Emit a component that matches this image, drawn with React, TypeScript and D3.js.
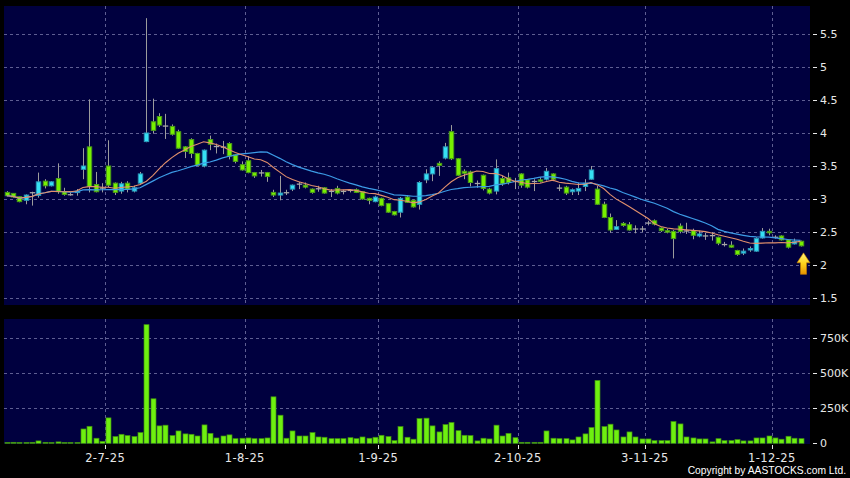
import React from "react";
import * as d3 from "d3";

// ---- data ----
const opens = [3.10,3.085,3.035,2.98,3.09,3.055,3.27,3.20,3.31,3.11,3.07,3.10,3.45,3.79,3.22,3.17,3.50,3.24,3.12,3.24,3.12,3.24,3.87,4.17,4.25,4.11,4.10,4.02,3.79,3.90,3.69,3.50,3.90,3.80,3.79,3.84,3.67,3.52,3.58,3.40,3.40,3.40,3.10,3.06,3.09,3.15,3.22,3.21,3.15,3.15,3.17,3.11,3.16,3.12,3.13,3.14,3.11,3.01,2.96,3.01,2.93,2.81,2.80,3.03,2.98,2.92,3.29,3.38,3.54,3.62,4.02,3.61,3.42,3.41,3.24,3.36,3.15,3.12,3.31,3.32,3.27,3.38,3.29,3.26,3.29,3.30,3.38,3.17,3.18,3.11,3.12,3.19,3.30,3.15,2.92,2.72,2.54,2.63,2.61,2.55,2.54,2.63,2.67,2.56,2.52,2.51,2.59,2.52,2.52,2.44,2.44,2.45,2.42,2.31,2.30,2.22,2.18,2.23,2.21,2.41,2.51,2.42,2.44,2.38,2.32,2.36];
const highs = [3.12,3.09,3.04,3.07,3.11,3.40,3.30,3.27,3.54,3.17,3.10,3.15,3.77,4.51,3.41,3.24,3.89,3.25,3.26,3.27,3.20,3.41,5.74,4.52,4.30,4.29,4.13,4.05,3.80,3.92,3.70,3.75,3.96,3.84,3.88,3.86,3.68,3.57,3.65,3.41,3.44,3.41,3.14,3.35,3.14,3.22,3.26,3.25,3.16,3.20,3.18,3.15,3.20,3.14,3.15,3.16,3.12,3.02,3.05,3.02,2.94,2.82,3.03,3.06,2.99,3.27,3.45,3.50,3.57,3.85,4.12,3.62,3.45,3.43,3.28,3.37,3.17,3.60,3.35,3.40,3.32,3.39,3.30,3.30,3.33,3.47,3.39,3.22,3.20,3.16,3.25,3.30,3.50,3.20,2.96,2.78,2.68,2.65,2.65,2.60,2.59,2.67,2.69,2.57,2.55,2.53,2.63,2.64,2.55,2.52,2.49,2.50,2.43,2.35,2.36,2.23,2.25,2.28,2.42,2.56,2.55,2.45,2.45,2.39,2.40,2.37];
const lows = [3.04,3.02,2.95,2.92,2.90,3.02,3.16,3.19,3.08,3.05,3.05,3.05,3.30,3.10,3.10,3.10,3.18,3.06,3.08,3.10,3.10,3.22,3.86,3.99,4.09,3.91,3.96,3.76,3.62,3.62,3.50,3.48,3.74,3.69,3.68,3.60,3.54,3.43,3.39,3.32,3.34,3.26,3.03,2.98,3.06,3.12,3.15,3.16,3.08,3.11,3.08,3.03,3.07,3.07,3.10,3.09,2.99,2.92,2.95,2.89,2.79,2.75,2.72,2.94,2.87,2.84,3.24,3.27,3.35,3.60,3.59,3.35,3.30,3.19,3.17,3.13,3.07,3.07,3.20,3.22,3.15,3.17,3.16,3.12,3.25,3.28,3.27,3.12,3.06,3.06,3.06,3.12,3.29,2.91,2.71,2.49,2.53,2.58,2.52,2.48,2.50,2.60,2.60,2.50,2.48,2.10,2.48,2.47,2.39,2.42,2.38,2.37,2.30,2.28,2.26,2.14,2.15,2.20,2.20,2.40,2.45,2.40,2.37,2.25,2.31,2.28];
const closes = [3.05,3.03,2.96,3.06,3.10,3.26,3.20,3.26,3.11,3.07,3.06,3.12,3.50,3.19,3.11,3.16,3.21,3.10,3.23,3.15,3.17,3.38,4.00,4.04,4.12,4.10,3.98,3.77,3.72,3.69,3.51,3.74,3.83,3.79,3.78,3.65,3.57,3.44,3.40,3.35,3.39,3.34,3.06,3.09,3.10,3.21,3.23,3.18,3.10,3.16,3.09,3.12,3.09,3.11,3.13,3.10,3.00,2.98,3.03,2.90,2.80,2.76,3.01,2.95,2.88,3.25,3.38,3.48,3.51,3.79,3.61,3.36,3.39,3.25,3.23,3.16,3.09,3.46,3.23,3.25,3.26,3.21,3.18,3.27,3.27,3.42,3.30,3.16,3.09,3.14,3.16,3.24,3.44,2.92,2.72,2.53,2.58,2.60,2.53,2.54,2.55,2.64,2.62,2.52,2.50,2.40,2.51,2.51,2.45,2.47,2.44,2.44,2.33,2.31,2.27,2.16,2.21,2.25,2.40,2.51,2.49,2.42,2.38,2.27,2.36,2.29];
const volumes = [2000,7000,2000,5000,7000,17000,7000,2000,10000,2000,1000,2000,102000,121000,36000,14000,181000,48000,64000,55000,48000,76000,845000,317000,124000,129000,55000,88000,67000,64000,52000,131000,71000,38000,52000,60000,33000,36000,38000,33000,33000,38000,331000,200000,36000,88000,52000,52000,76000,45000,43000,33000,33000,33000,40000,33000,45000,36000,43000,57000,48000,19000,119000,43000,29000,176000,179000,124000,81000,133000,148000,90000,57000,55000,17000,36000,31000,129000,52000,71000,40000,7000,7000,7000,7000,88000,36000,33000,33000,24000,45000,67000,112000,448000,119000,136000,95000,45000,81000,45000,31000,31000,19000,19000,19000,155000,138000,45000,38000,31000,31000,10000,33000,19000,19000,26000,17000,17000,38000,38000,52000,38000,29000,50000,36000,33000];
const dateLabels = ["2-7-25", "1-8-25", "1-9-25", "2-10-25", "3-11-25", "1-12-25"];
const dateIndex = [15, 37, 58, 80, 100, 120];
const priceTicks = [1.5, 2, 2.5, 3, 3.5, 4, 4.5, 5, 5.5];
const volTicks = [0, 250000, 500000, 750000];
const volTickLabels = ["0", "250K", "500K", "750K"];
const maShortPeriod = 10;
const maLongPeriod = 20;

function sma(vals: number[], n: number): number[] {
  return vals.map((_, i) => {
    const s = Math.max(0, i - n + 1);
    return d3.mean(vals.slice(s, i + 1)) as number;
  });
}

export default function App() {
  const W = 850, H = 478;
  const L = 4, R = 810;
  const pTop = 6, pBot = 305;
  const vTop = 319, vBot = 444;

  const x = d3.scaleLinear().domain([0, closes.length - 1]).range([6.7, 800.5]);
  const yP = d3.scaleLinear().domain([2, 5.5]).range([265, 34]);
  const yV = d3.scaleLinear().domain([0, 750000]).range([443.3, 338]);

  const maS = sma(closes, maShortPeriod);
  const maL = sma(closes, maLongPeriod);
  const line = d3.line<number>().x((_, i) => x(i)).y((d) => yP(d)).curve(d3.curveLinear);

  const grid = "#5e5e92";
  const font = "'DejaVu Sans', Verdana, sans-serif";
  const textCol = "#e8e8e8";

  const arrowX = 803.5;
  const arrowTip = yP(closes[closes.length - 1]) + 7;

  return (
    <svg width={W} height={H} style={{ position: "absolute", left: 0, top: 0, background: "#000" }}>
      <defs>
        <clipPath id="pclip"><rect x={L} y={pTop} width={R - L} height={pBot - pTop} /></clipPath>
        <linearGradient id="arrowGrad" x1="0" y1="0" x2="0" y2="1">
          <stop offset="0" stopColor="#fff27a" />
          <stop offset="0.5" stopColor="#ffd21c" />
          <stop offset="1" stopColor="#e69100" />
        </linearGradient>
      </defs>
      <rect x={0} y={0} width={W} height={H} fill="#000" />
      {/* price panel */}
      <rect x={L} y={pTop} width={R - L} height={pBot - pTop} fill="#00003f" />
      {priceTicks.map((t) => (
        <g key={"pt" + t}>
          <line x1={L} x2={R} y1={Math.round(yP(t)) + 0.5} y2={Math.round(yP(t)) + 0.5} stroke={grid} strokeDasharray="3,3" />
          <line x1={813} x2={817} y1={Math.round(yP(t)) + 0.5} y2={Math.round(yP(t)) + 0.5} stroke={textCol} />
          <text x={820} y={yP(t) + 4} fill={textCol} fontSize={11} fontFamily={font}>{String(t)}</text>
        </g>
      ))}
      {dateIndex.map((d) => (
        <line key={"pv" + d} x1={Math.round(x(d + 0.5)) + 0.5} x2={Math.round(x(d + 0.5)) + 0.5} y1={pTop} y2={pBot} stroke={grid} strokeDasharray="3,3" />
      ))}
      <g clipPath="url(#pclip)">
        {closes.map((c, i) => {
          const o = opens[i];
          const xr = Math.round(x(i)) + 0.5;
          const doji = Math.abs(c - o) <= 0.011;
          const up = c > o;
          const top = yP(Math.max(o, c));
          const bot = yP(Math.min(o, c));
          return (
            <g key={"c" + i}>
              <line x1={xr} x2={xr} y1={yP(highs[i])} y2={yP(lows[i])} stroke="#9c9c9c" strokeWidth={1} />
              {doji ? (
                <line x1={xr - 2.7} x2={xr + 2.7} y1={(top + bot) / 2} y2={(top + bot) / 2} stroke="#a8a8a8" strokeWidth={1.3} />
              ) : (
                <rect x={xr - 2.2} y={top} width={4.4} height={Math.max(1.5, bot - top)}
                  fill={up ? "#36e0f4" : "#77f000"} stroke={up ? "#2a97b8" : "#4a9c18"} strokeWidth={1} />
              )}
            </g>
          );
        })}
        <path d={line(maL) || ""} fill="none" stroke="#3c9be6" strokeWidth={1.2} />
        <path d={line(maS) || ""} fill="none" stroke="#e2906c" strokeWidth={1.1} />
      </g>
      {/* arrow */}
      <path
        d={`M${arrowX},${arrowTip} L${arrowX + 6.5},${arrowTip + 10} L${arrowX + 3},${arrowTip + 10} L${arrowX + 3},${arrowTip + 21.5} L${arrowX - 3},${arrowTip + 21.5} L${arrowX - 3},${arrowTip + 10} L${arrowX - 6.5},${arrowTip + 10} Z`}
        fill="url(#arrowGrad)" stroke="#c97d00" strokeWidth={0.6} />

      {/* volume panel */}
      <rect x={L} y={vTop} width={R - L} height={vBot - vTop} fill="#00003f" />
      {volTicks.map((t, k) => (
        <g key={"vt" + t}>
          {t > 0 && <line x1={L} x2={R} y1={Math.round(yV(t)) + 0.5} y2={Math.round(yV(t)) + 0.5} stroke={grid} strokeDasharray="3,3" />}
          <line x1={813} x2={817} y1={Math.round(yV(t)) + 0.5} y2={Math.round(yV(t)) + 0.5} stroke={textCol} />
          <text x={820} y={yV(t) + 4} fill={textCol} fontSize={11} fontFamily={font}>{volTickLabels[k]}</text>
        </g>
      ))}
      {dateIndex.map((d) => (
        <line key={"vv" + d} x1={Math.round(x(d + 0.5)) + 0.5} x2={Math.round(x(d + 0.5)) + 0.5} y1={vTop} y2={vBot} stroke={grid} strokeDasharray="3,3" />
      ))}
      {volumes.map((v, i) => {
        const xr = Math.round(x(i)) + 0.5;
        const y0 = yV(0);
        const h = Math.max(0.8, y0 - yV(v));
        return (
          <rect key={"v" + i} x={xr - 2.5} y={y0 - h} width={5} height={h} fill="#6ef010" stroke="#3f8f10" strokeWidth={0.7} />
        );
      })}

      {/* date axis */}
      {dateIndex.map((d, k) => (
        <g key={"dl" + d}>
          <line x1={Math.round(x(d + 0.5)) + 0.5} x2={Math.round(x(d + 0.5)) + 0.5} y1={445} y2={449} stroke={textCol} />
          <text x={x(d + 0.5)} y={461.5} fill={textCol} fontSize={11.5} fontFamily={font} textAnchor="middle" letterSpacing={0.4}>{dateLabels[k]}</text>
        </g>
      ))}
      <text x={846} y={474} fill="#ffffff" fontSize={10.3} fontFamily="'Liberation Sans', Arial, sans-serif" textAnchor="end">Copyright by AASTOCKS.com Ltd.</text>
    </svg>
  );
}
